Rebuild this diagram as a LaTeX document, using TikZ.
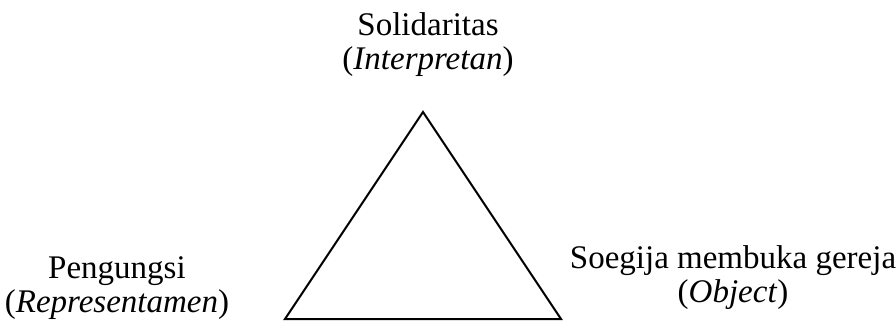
\documentclass[tikz,border=0pt]{standalone}
\usepackage{fontspec}
\setmainfont{Liberation Serif}
\usetikzlibrary{calc}

\begin{document}
\begin{tikzpicture}[x=1pt,y=-1pt,label/.style={align=center,inner sep=0pt,anchor=base,font=\fontsize{33}{34}\selectfont}]
\useasboundingbox (0,0) rectangle (896,327);
\coordinate (I) at (423,112); \coordinate (R) at (285,319); \coordinate (O) at (561,319);
\draw[line width=2pt,line join=miter] (R)--(I)--(O)--cycle;
\node[label] (interp) at (428,69) {Solidaritas\\(\textit{Interpretan})};
\node[label] (repr) at (117,312) {Pengungsi\\(\textit{Representamen})};
\node[label] (obj) at (733,302) {Soegija membuka gereja\\(\textit{Object})};
\end{tikzpicture}
\end{document}
